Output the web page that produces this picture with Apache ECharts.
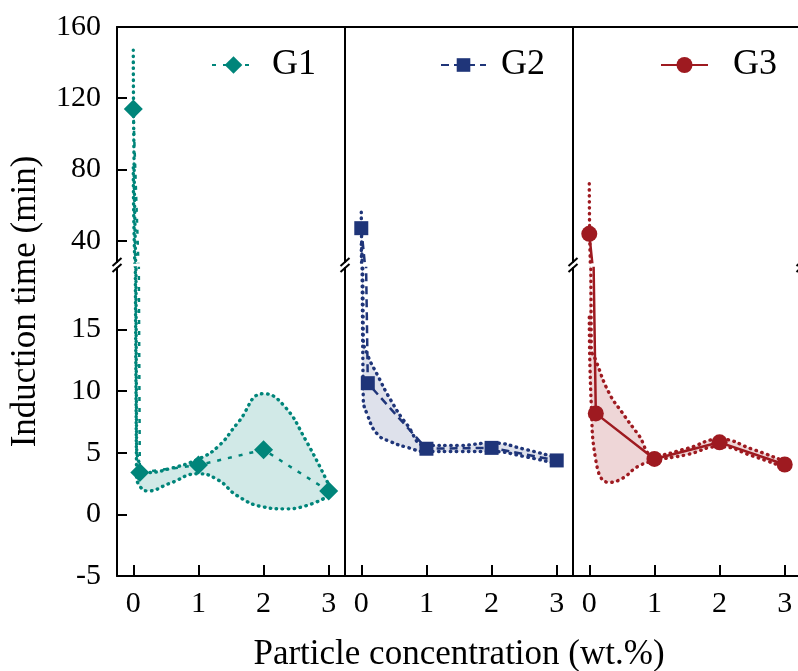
<!DOCTYPE html>
<html>
<head>
<meta charset="utf-8">
<script src="https://cdn.jsdelivr.net/npm/echarts@6/dist/echarts.min.js"></script>
<style>
  html, body { margin: 0; padding: 0; background: #fff; }
  #chart { width: 798px; height: 671px; }
</style>
</head>
<body>
<div id="chart"></div>
<script>
// Particle concentrations (wt.%) and mean induction times (min)
const concentrations = [0, 0.1, 1, 2, 3];
const g1Mean = [114, 3.4, 4.0, 5.25, 1.9];
const g2Mean = [47, 10.65, 5.33, 5.4, 4.38];
const g3Mean = [43.8, 8.2, 4.5, 5.85, 4.05];

// Spread envelopes: upper / lower edges along each curve
const g1BandX = [0, 0.05, 0.1, 0.22, 0.55, 1, 1.3, 1.6, 2, 2.3, 2.65, 3];
const g1BandUpper = [147, 6.0, 4.0, 3.4, 3.7, 4.5, 5.5, 7.4, 9.8, 8.9, 6.0, 2.4];
const g1BandLower = [81, 3.2, 2.3, 1.9, 2.5, 3.3, 2.8, 1.5, 0.6, 0.45, 0.7, 1.5];

const g2BandX = [0, 0.03, 0.1, 0.25, 0.45, 0.7, 1, 1.5, 2, 2.5, 3];
const g2BandUpper = [56, 14.3, 12.9, 11.3, 9.3, 7.3, 5.6, 5.6, 5.8, 5.3, 4.6];
const g2BandLower = [38, 9.5, 8.0, 6.5, 5.9, 5.45, 5.1, 5.1, 5.1, 4.7, 4.1];

const g3BandX = [0, 0.03, 0.1, 0.3, 0.5, 0.75, 1, 1.5, 2, 2.5, 3];
const g3BandUpper = [72, 13.5, 12.5, 9.9, 8.3, 6.5, 4.8, 5.35, 6.1, 5.3, 4.3];
const g3BandLower = [16, 9.0, 4.4, 2.6, 2.9, 3.9, 4.35, 4.85, 5.5, 4.75, 3.8];

// Axis ticks
const xTicks = [0, 1, 2, 3];
const yTicksUpper = [40, 80, 120, 160];
const yTicksLower = [-5, 0, 5, 10, 15];

// Layout (px): three side-by-side panels, y axis broken into two segments
const L = 117, W = 228, T = 27, UB = 262, LT = 268, B = 576;
const X_RANGE = [-0.25, 3.25];
const UPPER_RANGE = [28, 160];
const LOWER_RANGE = [-5, 20];
const FONT = '"Liberation Serif", "Times New Roman", serif';

const groups = [
  { name: 'G1', color: '#00857a', fill: 'rgba(0,133,122,0.18)', symbol: 'diamond', size: 19,
    line: { type: [4, 7], width: 2.5 }, mean: g1Mean, bx: g1BandX, up: g1BandUpper, lo: g1BandLower,
    legendLeft: 211, legendW: 43, legendH: 22, textPad: 12 },
  { name: 'G2', color: '#1f3579', fill: 'rgba(31,53,121,0.15)', symbol: 'rect', size: 14,
    line: { type: [8, 5], width: 2.5 }, mean: g2Mean, bx: g2BandX, up: g2BandUpper, lo: g2BandLower,
    legendLeft: 440, legendW: 45, legendH: 17, textPad: 10 },
  { name: 'G3', color: '#9e1a20', fill: 'rgba(158,26,32,0.18)', symbol: 'circle', size: 16,
    line: { type: 'solid', width: 2.5 }, mean: g3Mean, bx: g3BandX, up: g3BandUpper, lo: g3BandLower,
    legendLeft: 660, legendW: 47, legendH: 20, textPad: 20 }
];

const zip = (xs, ys) => xs.map((x, i) => [x, ys[i]]);
// value column first so that stacking accumulates induction time, not concentration
const zipStack = (xs, ys) => xs.map((x, i) => [ys[i], x]);

const grids = [], xAxes = [], yAxes = [], series = [];

groups.forEach((g, p) => {
  [0, 1].forEach(seg => {
    const gi = p * 2 + seg;
    const isUpper = seg === 0;
    grids.push({
      left: L + p * W, width: W,
      top: isUpper ? T : LT, height: isUpper ? UB - T : B - LT,
      containLabel: false, outerBoundsMode: 'none'
    });
    xAxes.push({
      type: 'value', gridIndex: gi, min: X_RANGE[0], max: X_RANGE[1],
      position: isUpper ? 'top' : 'bottom',
      axisLine: { show: true, onZero: false, lineStyle: { color: '#000', width: 2 } },
      axisTick: isUpper ? { show: false } :
        { show: true, inside: true, length: 11, customValues: xTicks, lineStyle: { color: '#000', width: 2 } },
      axisLabel: isUpper ? { show: false } :
        { show: true, customValues: xTicks, margin: 13, fontSize: 30, fontFamily: FONT, color: '#000' },
      splitLine: { show: false }
    });
    const range = isUpper ? UPPER_RANGE : LOWER_RANGE;
    const ticks = isUpper ? yTicksUpper : yTicksLower;
    const first = p === 0;
    yAxes.push({
      type: 'value', gridIndex: gi, min: range[0], max: range[1], position: 'left',
      axisLine: { show: true, onZero: false, lineStyle: { color: '#000', width: 2 } },
      axisTick: first ? { show: true, inside: true, length: 10, customValues: ticks, lineStyle: { color: '#000', width: 2 } } : { show: false },
      axisLabel: first ? { show: true, customValues: ticks, margin: 16, fontSize: 30, fontFamily: FONT, color: '#000' } : { show: false },
      splitLine: { show: false }
    });

    const stackId = 'band-' + gi;
    const dotted = { color: g.color, width: 3.4, type: [0.5, 5.5], cap: 'round' };
    // lower envelope edge (stack base)
    series.push({
      type: 'line', xAxisIndex: gi, yAxisIndex: gi, stack: stackId,
      encode: { x: 1, y: 0 },
      data: zipStack(g.bx, g.lo), smooth: 0.5, symbol: 'none', silent: true,
      lineStyle: dotted, z: 2
    });
    // envelope thickness stacked on the lower edge, filled
    series.push({
      type: 'line', xAxisIndex: gi, yAxisIndex: gi, stack: stackId,
      encode: { x: 1, y: 0 },
      data: zipStack(g.bx, g.up.map((u, i) => +(u - g.lo[i]).toFixed(3))),
      smooth: 0.5, symbol: 'none', silent: true,
      lineStyle: dotted, areaStyle: { color: g.fill, opacity: 1 }, z: 2
    });
    // mean curve with markers
    series.push({
      name: g.name, type: 'line', xAxisIndex: gi, yAxisIndex: gi,
      data: zip(concentrations, g.mean),
      symbol: g.symbol, symbolSize: g.size, showAllSymbol: true,
      itemStyle: { color: g.color },
      lineStyle: { color: g.color, width: g.line.width, type: g.line.type },
      z: 4
    });
  });
});

// right border of the last panel
[4, 5].forEach(gi => {
  yAxes.push({
    type: 'value', gridIndex: gi, min: 0, max: 1, position: 'right',
    axisLine: { show: true, onZero: false, lineStyle: { color: '#000', width: 2 } },
    axisTick: { show: false }, axisLabel: { show: false }, splitLine: { show: false }
  });
});

// axis-break marks and axis titles
const graphic = [];
[0, 1, 2, 3].forEach(k => {
  const x = L + k * W;
  [UB, LT].forEach(y => {
    graphic.push({
      type: 'line', silent: true,
      shape: { x1: x - 4.5, y1: y + 4, x2: x + 4.5, y2: y - 4 },
      style: { stroke: '#000', lineWidth: 2 }
    });
  });
});
graphic.push({
  type: 'text', x: 26, y: (T + B) / 2, rotation: Math.PI / 2, silent: true,
  style: { text: 'Induction time (min)', fontSize: 35, fontFamily: FONT, fill: '#000',
           align: 'center', verticalAlign: 'middle', textAlign: 'center', textVerticalAlign: 'middle' }
});
graphic.push({
  type: 'text', x: L + 1.5 * W, y: 655, silent: true,
  style: { text: 'Particle concentration (wt.%)', fontSize: 35, fontFamily: FONT, fill: '#000',
           align: 'center', verticalAlign: 'middle', textAlign: 'center', textVerticalAlign: 'middle' }
});

const legends = groups.map(g => ({
  data: [g.name], left: g.legendLeft, top: 47, padding: 0,
  itemWidth: g.legendW, itemHeight: g.legendH, selectedMode: false,
  textStyle: { fontSize: 36, fontFamily: FONT, color: '#000', padding: [0, 0, 0, g.textPad] }
}));

const chart = echarts.init(document.getElementById('chart'), null, { renderer: 'canvas' });
chart.setOption({
  backgroundColor: '#fff',
  animation: false,
  grid: grids,
  xAxis: xAxes,
  yAxis: yAxes,
  legend: legends,
  series: series,
  graphic: graphic
});
</script>
</body>
</html>
